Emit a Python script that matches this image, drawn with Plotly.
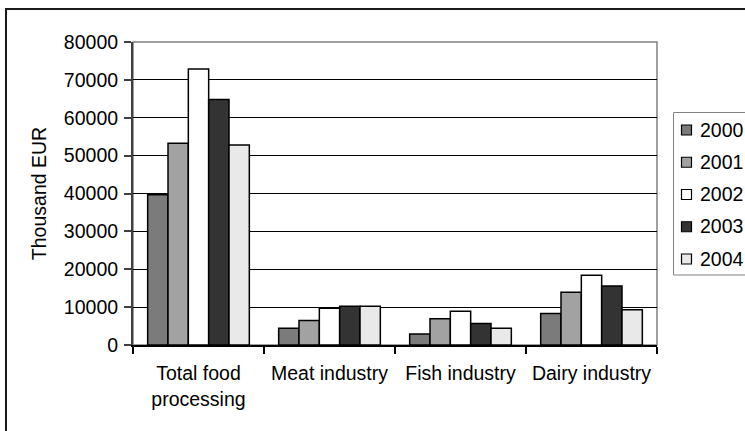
import plotly.graph_objects as go

# Categories and values (thousand EUR)
categories = ["Total food<br>processing", "Meat industry", "Fish industry", "Dairy industry"]
years = ["2000", "2001", "2002", "2003", "2004"]
values_2000 = [39700, 4400, 2900, 8300]
values_2001 = [53300, 6500, 6900, 13900]
values_2002 = [72900, 9700, 8900, 18400]
values_2003 = [64800, 10200, 5700, 15600]
values_2004 = [52800, 10200, 4400, 9300]

series = [values_2000, values_2001, values_2002, values_2003, values_2004]
fills = ["#7b7b7b", "#a2a2a2", "#ffffff", "#333333", "#e9e9e9"]

FONT = "Liberation Sans, Arial, sans-serif"
FS = 19.5

fig = go.Figure()
for year, vals, col in zip(years, series, fills):
    fig.add_trace(go.Bar(
        x=categories, y=vals, name=year, showlegend=False,
        marker=dict(color=col, line=dict(color="#000000", width=1.5)),
    ))

W, H = 745, 431
L, R, T, B = 133, 88, 42, 86
pw, ph = W - L - R, H - T - B

def px_x(p):
    return (p - L) / pw

def px_y(p):
    return 1 - (p - T) / ph

shapes = [
    # plot area border (top and right)
    dict(type="rect", xref="paper", yref="paper", x0=0, y0=0, x1=1, y1=1,
         line=dict(color="#808080", width=1.5), layer="below"),
    # outer chart frame
    dict(type="rect", xref="paper", yref="paper",
         x0=px_x(6), y0=px_y(H + 20), x1=px_x(W + 20), y1=px_y(9),
         line=dict(color="#1a1a1a", width=2), layer="above"),
    # legend box
    dict(type="rect", xref="paper", yref="paper",
         x0=px_x(673.5), y0=px_y(275), x1=px_x(W + 20), y1=px_y(112.5),
         line=dict(color="#808080", width=1), fillcolor="#ffffff", layer="above"),
]
annotations = []

# legend entries: swatch + year label
ENTRY_TOP, ENTRY_STEP = 129.5, 32.25
for i, (year, col) in enumerate(zip(years, fills)):
    cy = ENTRY_TOP + ENTRY_STEP * i
    shapes.append(dict(
        type="rect", xref="paper", yref="paper",
        x0=px_x(681.5), x1=px_x(691.5), y0=px_y(cy + 5.5), y1=px_y(cy - 4.5),
        line=dict(color="#000000", width=1.2), fillcolor=col, layer="above",
    ))
    annotations.append(dict(
        text=year, xref="paper", yref="paper", x=px_x(698), y=px_y(cy),
        xanchor="left", yanchor="middle", showarrow=False,
        font=dict(family=FONT, size=FS, color="#000000"),
    ))

fig.update_layout(
    width=W, height=H,
    margin=dict(l=L, r=R, t=T, b=B, pad=0, autoexpand=False),
    paper_bgcolor="#ffffff", plot_bgcolor="#ffffff",
    font=dict(family=FONT, size=FS, color="#000000"),
    barmode="group", bargap=0.224, bargroupgap=0,
    showlegend=False,
    xaxis=dict(
        showgrid=False, showline=True, linecolor="#000000", linewidth=1.5,
        ticks="outside", ticklen=7, tickcolor="#000000", tickwidth=1.5,
        tickson="boundaries", tickangle=0, automargin=False,
        ticklabelstandoff=10,
        tickfont=dict(family=FONT, size=FS),
    ),
    yaxis=dict(
        range=[0, 80000], dtick=10000, tickformat="d",
        showgrid=True, gridcolor="#000000", gridwidth=1,
        showline=True, linecolor="#404040", linewidth=2,
        ticks="outside", ticklen=7, tickcolor="#404040", tickwidth=1.5,
        zeroline=False, automargin=False, ticklabelstandoff=2,
        tickfont=dict(family=FONT, size=FS),
        title=dict(text="Thousand EUR", font=dict(family=FONT, size=FS), standoff=12),
    ),
    shapes=shapes,
    annotations=annotations,
)

fig.write_html("out.html")
